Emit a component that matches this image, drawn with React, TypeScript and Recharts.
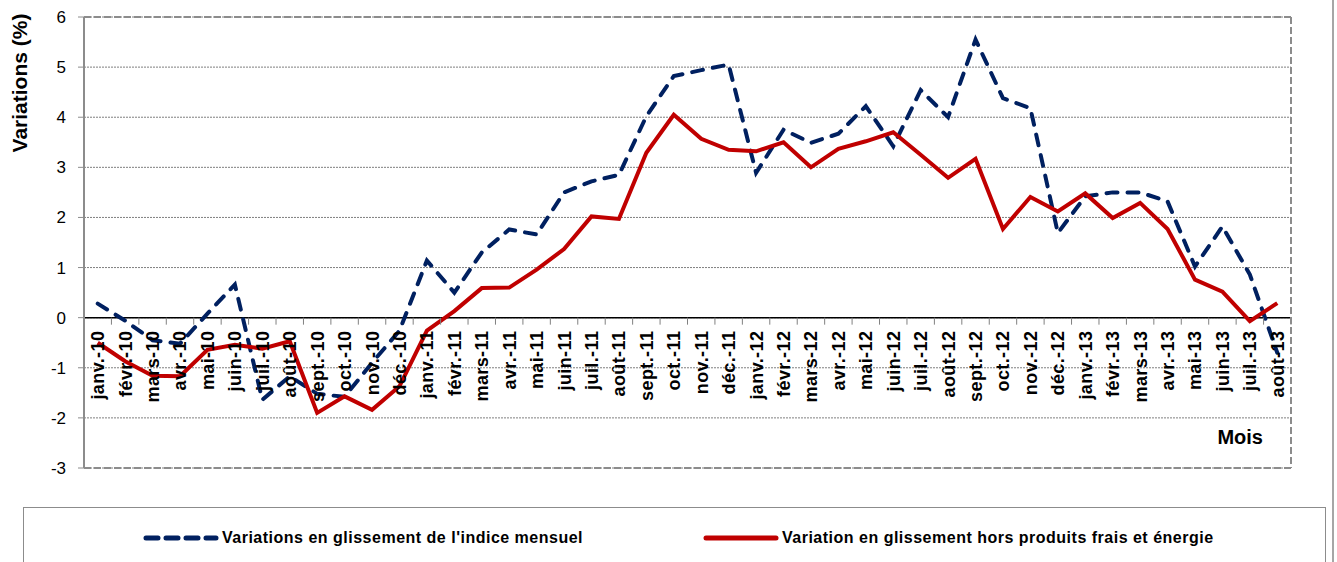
import React from 'react';
import { LineChart, Line, XAxis, YAxis, CartesianGrid, ReferenceLine } from 'recharts';

const mois = [
  'janv.-10', 'févr.-10', 'mars-10', 'avr.-10', 'mai-10', 'juin-10', 'juil.-10', 'août-10', 'sept.-10', 'oct.-10', 'nov.-10', 'déc.-10',
  'janv.-11', 'févr.-11', 'mars-11', 'avr.-11', 'mai-11', 'juin-11', 'juil.-11', 'août-11', 'sept.-11', 'oct.-11', 'nov.-11', 'déc.-11',
  'janv.-12', 'févr.-12', 'mars-12', 'avr.-12', 'mai-12', 'juin-12', 'juil.-12', 'août-12', 'sept.-12', 'oct.-12', 'nov.-12', 'déc.-12',
  'janv.-13', 'févr.-13', 'mars-13', 'avr.-13', 'mai-13', 'juin-13', 'juil.-13', 'août-13',
];

// glissement de l'indice mensuel (bleu, pointillés)
const indiceMensuel = [
  0.28, -0.06, -0.45, -0.52, 0.08, 0.66, -1.64, -1.17, -1.52, -1.58, -0.9, -0.26,
  1.14, 0.5, 1.3, 1.76, 1.66, 2.5, 2.72, 2.85, 4.02, 4.82, 4.94, 5.05,
  2.89, 3.75, 3.49, 3.67, 4.22, 3.42, 4.54, 4.0, 5.55, 4.38, 4.18, 1.69,
  2.42, 2.5, 2.5, 2.32, 1.02, 1.82, 0.86, -0.7,
];

// hors produits frais et énergie (rouge)
const horsFraisEnergie = [
  -0.5, -0.87, -1.16, -1.17, -0.64, -0.54, -0.62, -0.47, -1.9, -1.57, -1.84, -1.37,
  -0.26, 0.13, 0.59, 0.6, 0.96, 1.37, 2.02, 1.97, 3.29, 4.05, 3.57, 3.35,
  3.32, 3.5, 3.0, 3.37, 3.52, 3.7, 3.25, 2.79, 3.17, 1.77, 2.41, 2.12,
  2.48, 1.99, 2.29, 1.77, 0.76, 0.52, -0.07, 0.29,
];

const yTicks = [-3, -2, -1, 0, 1, 2, 3, 4, 5, 6];

const serieBleue = "Variations en glissement de l'indice mensuel";
const serieRouge = 'Variation en glissement hors produits frais et énergie';

const data = mois.map((m, i) => ({ mois: m, indice: indiceMensuel[i], hors: horsFraisEnergie[i] }));

const W = 1337;
const H = 562;
const M_TOP = 17;
const Y_W = 84;
const X_H = 94;
const M_RIGHT = 46;
const PLOT_W = W - Y_W - M_RIGHT;
const PLOT_H = H - M_TOP - X_H;
const PLOT_R = Y_W + PLOT_W;
const PLOT_B = M_TOP + PLOT_H;
const BAND = PLOT_W / mois.length;
const ZERO_Y = M_TOP + (PLOT_H * 6) / 9;

const BLUE = '#002060';
const RED = '#C00000';
const FRAME = '#8c8c8c';
const FONT = '"Liberation Sans", Arial, sans-serif';

const XTick = (props: any) => {
  const { x, payload } = props;
  return (
    <g>
      <line x1={x + BAND / 2} x2={x + BAND / 2} y1={ZERO_Y} y2={ZERO_Y + 7} stroke="#808080" strokeWidth={1} />
      <text
        transform={`translate(${x},${ZERO_Y + 13}) rotate(-90)`}
        textAnchor="end"
        dy="0.36em"
        fontFamily={FONT}
        fontWeight="bold"
        fontSize={18}
        letterSpacing={0.4}
        fill="#000"
      >
        {payload.value}
      </text>
    </g>
  );
};

const YLabel = () => (
  <text
    transform="translate(27,83) rotate(-90)"
    textAnchor="middle"
    fontFamily={FONT}
    fontWeight="bold"
    fontSize={21}
    fill="#000"
  >
    Variations (%)
  </text>
);

const XLabel = (props: any) => {
  const { viewBox } = props;
  return (
    <text
      x={viewBox.x + viewBox.width - 28}
      y={viewBox.y - 24}
      textAnchor="end"
      fontFamily={FONT}
      fontWeight="bold"
      fontSize={20}
      fill="#000"
    >
      Mois
    </text>
  );
};

const LegendItem = ({ color, dashed, label }: { color: string; dashed: boolean; label: string }) => (
  <div style={{ display: 'flex', alignItems: 'center' }}>
    <svg width={76} height={10}>
      <line
        x1={3}
        x2={73}
        y1={5}
        y2={5}
        stroke={color}
        strokeWidth={5}
        strokeLinecap="round"
        strokeDasharray={dashed ? '12 8' : undefined}
      />
    </svg>
    <span
      style={{ marginLeft: 3, fontFamily: FONT, fontWeight: 'bold', fontSize: 16, letterSpacing: 0.5, color: '#000', whiteSpace: 'nowrap' }}
    >
      {label}
    </span>
  </div>
);

export default function App() {
  return (
    <div style={{ position: 'absolute', left: 0, top: 0, width: W, height: H, background: '#fff', overflow: 'hidden' }}>
      <LineChart width={W} height={H} data={data} margin={{ top: M_TOP, right: M_RIGHT, left: 0, bottom: 0 }}>
        <CartesianGrid horizontal vertical={false} stroke="#7f7f7f" strokeDasharray="2 1" strokeWidth={1} />
        <XAxis
          dataKey="mois"
          interval={0}
          height={X_H}
          axisLine={false}
          tickLine={false}
          padding={{ left: BAND / 2, right: BAND / 2 }}
          tick={<XTick />}
          label={<XLabel />}
        />
        <YAxis
          domain={[-3, 6]}
          ticks={yTicks}
          interval={0}
          width={Y_W}
          axisLine={{ stroke: FRAME, strokeWidth: 2 }}
          tickLine={{ stroke: FRAME, strokeWidth: 1 }}
          tickSize={6}
          tickMargin={12}
          tick={{ fill: '#000', fontSize: 17, fontFamily: FONT }}
          label={<YLabel />}
        />
        <ReferenceLine y={0} stroke="#000" strokeWidth={1.5} />
        <Line
          type="linear"
          dataKey="indice"
          stroke={BLUE}
          strokeWidth={4}
          strokeDasharray="11 10"
          strokeLinecap="round"
          dot={false}
          activeDot={false}
          isAnimationActive={false}
        />
        <Line
          type="linear"
          dataKey="hors"
          stroke={RED}
          strokeWidth={4}
          dot={false}
          activeDot={false}
          isAnimationActive={false}
        />
      </LineChart>
      {/* cadre pointillé de la zone de tracé (haut, droite, bas) */}
      <svg width={W} height={H} style={{ position: 'absolute', left: 0, top: 0, pointerEvents: 'none' }}>
        <g stroke={FRAME} strokeWidth={2} strokeDasharray="7 3" fill="none">
          <line x1={Y_W} x2={PLOT_R} y1={M_TOP} y2={M_TOP} />
          <line x1={PLOT_R} x2={PLOT_R} y1={M_TOP} y2={PLOT_B} />
          <line x1={Y_W} x2={PLOT_R} y1={PLOT_B} y2={PLOT_B} />
        </g>
      </svg>
      <div
        style={{
          position: 'absolute',
          left: 23,
          top: 507,
          width: 1303,
          height: 80,
          border: '1px solid #8c8c8c',
          boxSizing: 'border-box',
        }}
      >
        <div style={{ position: 'absolute', left: 119, top: 21 }}>
          <LegendItem color={BLUE} dashed label={serieBleue} />
        </div>
        <div style={{ position: 'absolute', left: 679, top: 21 }}>
          <LegendItem color={RED} dashed={false} label={serieRouge} />
        </div>
      </div>
      <div style={{ position: 'absolute', left: 1332, top: 0, width: 2, height: H, background: '#a6a6a6' }} />
    </div>
  );
}
